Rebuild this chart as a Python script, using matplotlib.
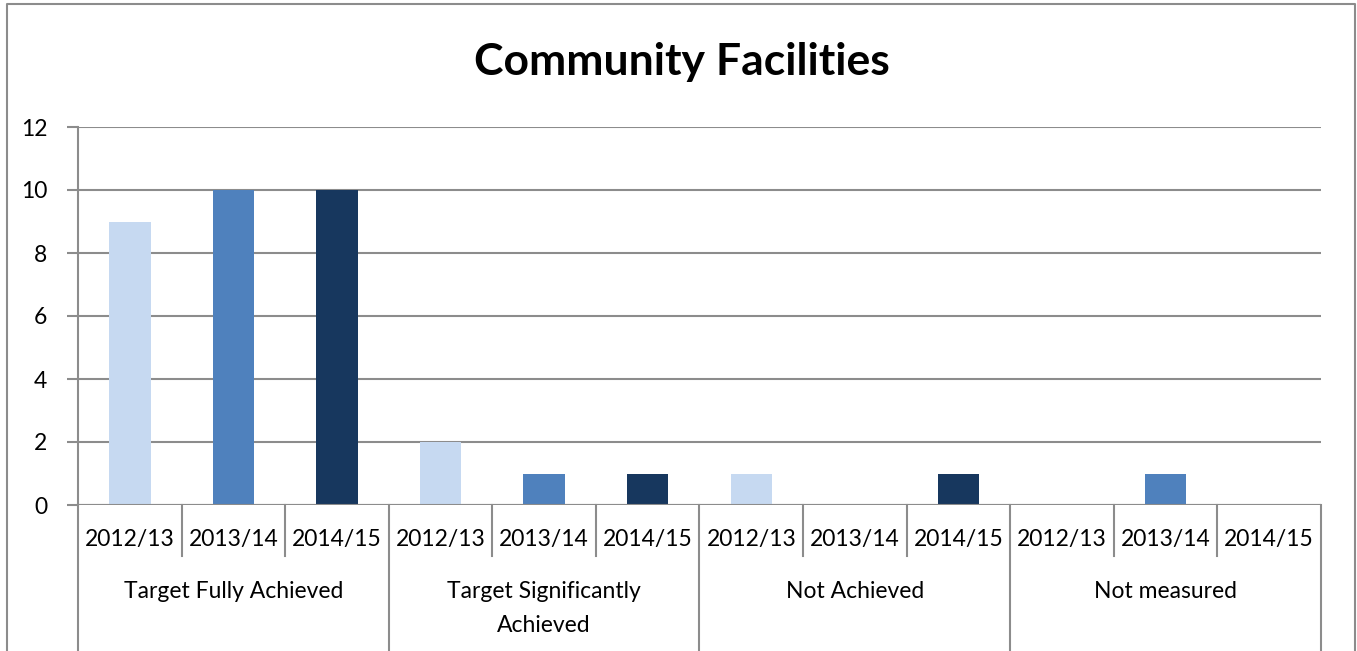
import numpy as np
import matplotlib.pyplot as plt
from matplotlib.lines import Line2D

plt.rcParams['font.family'] = ['Lato', 'DejaVu Sans']

groups = ["Target Fully Achieved", "Target Significantly\nAchieved", "Not Achieved", "Not measured"]
years = ["2012/13", "2013/14", "2014/15"]
v1213 = [9, 2, 1, 0]
v1314 = [10, 1, 0, 1]
v1415 = [10, 1, 1, 0]
colors = ["#C6D9F1", "#4F81BD", "#17375E"]

W, H = 1357, 651
fig = plt.figure(figsize=(W / 100, H / 100), dpi=100)
ax = fig.add_axes([78 / W, 1 - 505 / H, (1321 - 78) / W, (505 - 127) / H])

grid = "#8C8C8C"
series = [v1213, v1314, v1415]
for j, vals in enumerate(series):
    xs = np.arange(len(groups)) * 3 + j
    ax.bar(xs, vals, width=0.4, color=colors[j], zorder=3)

ax.set_xlim(-0.5, 11.5)
ax.set_ylim(0, 12)
ax.set_yticks(range(0, 13, 2))
ax.yaxis.grid(True, color=grid, linewidth=1.5, zorder=0)
for s in ["top", "right", "bottom"]:
    ax.spines[s].set_visible(False)
ax.spines["left"].set_color(grid)
ax.spines["left"].set_linewidth(1.5)
ax.tick_params(axis="y", length=8, width=1.5, color=grid, labelsize=16.5, pad=14)
ax.set_xticks([])
ax.axhline(0, color=grid, linewidth=1.5, zorder=4)

# multi-level category axis
tr = ax.get_xaxis_transform()
ny = len(years)
for g in range(len(groups)):
    for j in range(ny):
        x = g * ny + j
        ax.text(x, -0.09, years[j], transform=tr, ha="center", va="center", fontsize=16.5)
        if j > 0:
            ax.add_line(Line2D([x - 0.5, x - 0.5], [0, -0.135], transform=tr, color=grid,
                               linewidth=1.5, clip_on=False))
    ax.text(g * ny + 1, -0.202, groups[g], transform=tr, ha="center", va="top", fontsize=16.5,
            linespacing=1.75)
for k in range(len(groups) + 1):
    x = k * ny - 0.5
    ax.add_line(Line2D([x, x], [0, -0.4], transform=tr, color=grid, linewidth=1.5, clip_on=False))

fig.text(682 / W, 1 - 62 / H, "Community Facilities", ha="center", va="center",
         fontsize=32, fontweight="bold")

# outer chart border
fig.add_artist(Line2D([7 / W, 7 / W, 1355 / W, 1355 / W], [0, 1 - 4 / H, 1 - 4 / H, 0],
                      transform=fig.transFigure, color="#8C8C8C", linewidth=1.5))

fig.savefig("out.png", dpi=100)
